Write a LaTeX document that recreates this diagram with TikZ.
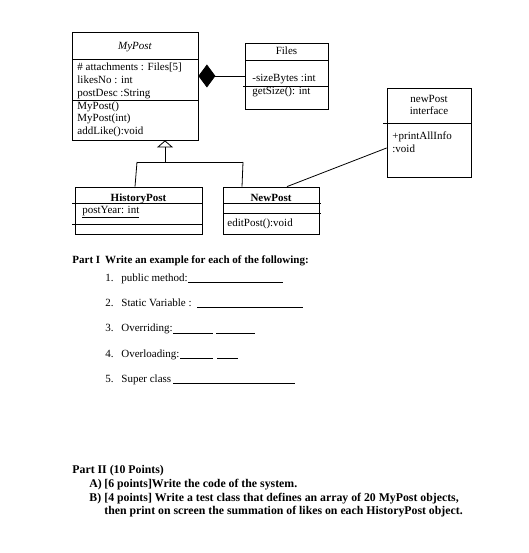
\documentclass[tikz,border=0pt]{standalone}
\usepackage{fontspec}
\setmainfont{Liberation Serif}
\usetikzlibrary{arrows.meta}
\tikzset{
  umlbox/.style={draw, inner sep=0pt},
  txt/.style={anchor=base west, inner sep=0pt, font=\fontsize{11}{13}\selectfont},
  ttl/.style={anchor=base, inner sep=0pt, font=\fontsize{11}{13}\selectfont},
  big/.style={anchor=base west, inner sep=0pt, font=\fontsize{11.8}{13.5}\selectfont\bfseries},
}
\begin{document}
\begin{tikzpicture}[x=1pt, y=-1pt, line width=0.8pt]
  \useasboundingbox[fill=white] (0,0) rectangle (528,553);
  % class boxes
  \node[umlbox, minimum width=126, minimum height=108] (mypost) at (135,86) {};
  \node[umlbox, minimum width=83, minimum height=66] (files) at (286.5,76) {};
  \node[umlbox, minimum width=127, minimum height=47] (hist) at (138.5,210.5) {};
  \node[umlbox, minimum width=96, minimum height=47] (newpost) at (271,210.5) {};
  \node[umlbox, minimum width=84, minimum height=89] (iface) at (429,132.5) {};
  \draw (72,59) -- (198,59) (72,100) -- (198,100);
  \draw (245,60) -- (328,60) (243,86) -- (328,86);
  \draw (72,203) -- (202,203) (72,224) -- (202,224);
  \draw (223,203) -- (321,203) (223,213) -- (321,213);
  \draw (383,123) -- (471,123);
  % MyPost
  \node[ttl] (mypostname) at (135,50) {\itshape MyPost};
  \node[txt] (attach) at (77,71) {\# attachments : Files[5]};
  \node[txt] (likes) at (77,84) {likesNo : int};
  \node[txt] (desc) at (77,96.5) {postDesc :String};
  \node[txt] (ctor) at (77,109.5) {MyPost()};
  \node[txt] (ctorint) at (77,122) {MyPost(int)};
  \node[txt] (addlike) at (77,134.5) {addLike():void};
  % Files
  \node[ttl] (filesname) at (286.5,55) {Files};
  \node[txt] (size) at (252,81.5) {-sizeBytes :int};
  \node[txt] (getsize) at (252,95) {getSize(): int};
  % HistoryPost and NewPost
  \node[ttl] (histname) at (138.5,201.5) {\bfseries HistoryPost};
  \node[txt] (year) at (82,213) {\underline{postYear: int}};
  \node[ttl] (newname) at (271,201.5) {\bfseries NewPost};
  \node[txt] (edit) at (227,226.5) {editPost():void};
  % interface
  \node[ttl] (ifacename) at (429,102.5) {newPost};
  \node[ttl] (ifacekind) at (429,115) {interface};
  \node[txt] (print) at (392,140) {+printAllInfo};
  \node[txt] (printtype) at (392,152.5) {:void};
  % relations
  \draw[-{Diamond[length=17pt, width=23pt]}] (files.west) -- (files.west -| mypost.east);
  \coordinate (split) at (165,162);
  \coordinate (hleft) at (137,162);
  \coordinate (hright) at (243,162);
  \draw[-{Triangle[open, length=7pt, width=16pt]}] (split) -- (mypost.south -| split);
  \draw (hleft) -- (hright);
  \draw (hleft) -- ([xshift=-3.5pt]hist.north);
  \draw (hright) -- ([xshift=-29pt]newpost.north);
  \draw ([xshift=16pt]newpost.north) -- ([yshift=-15.5pt]iface.west);
  % Part I
  \node[txt, font=\fontsize{11}{13}\selectfont\bfseries] (part1) at (72,263) {Part I\hspace{5pt}Write an example for each of the following:};
  \foreach \n/\y/\t in {1/281/public method:, 2/306/Static Variable :, 3/331.5/Overriding:, 4/357/Overloading:, 5/382/Super class}
    \node[txt] (item\n) at (121,\y) {\t};
  \foreach \n/\y in {1/281, 2/306, 3/331.5, 4/357, 5/382}
    \node[txt] (num\n) at (105,\y) {\n.};
  \draw[line width=0.6pt] (188,282.5) -- (283,282.5) (197,307.5) -- (303,307.5)
    (173,333) -- (213,333) (216,333) -- (255,333)
    (180,358.5) -- (213,358.5) (217,358.5) -- (238,358.5)
    (173,383.5) -- (295,383.5);
  % Part II
  \node[big] (part2) at (72,473) {Part II (10 Points)};
  \node[big] (qa) at (89,487) {A)};
  \node[big] (qatext) at (104,487) {[6 points]Write the code of the system.};
  \node[big] (qb) at (89,501) {B)};
  \node[big] (qbtext) at (104,501) {[4 points] Write a test class that defines an array of 20 MyPost objects,};
  \node[big] (qbmore) at (104,514.5) {then print on screen the summation of likes on each HistoryPost object.};
\end{tikzpicture}
\end{document}
